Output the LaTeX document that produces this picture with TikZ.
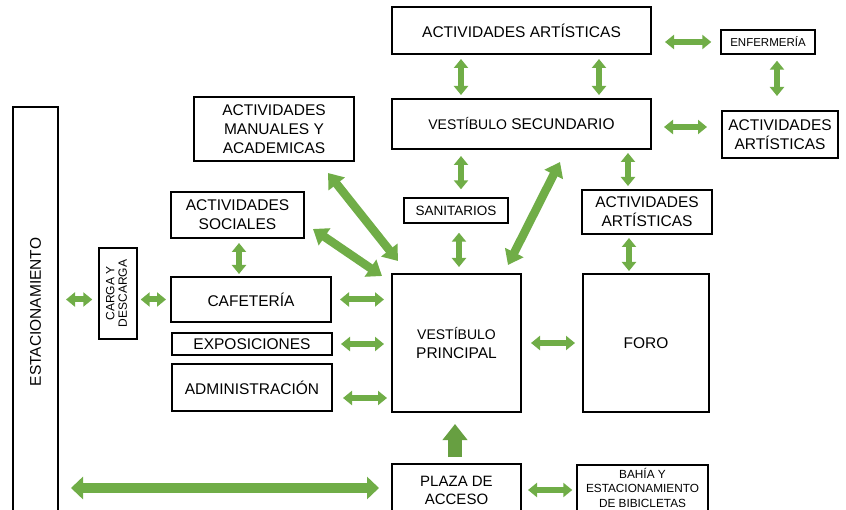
\documentclass[tikz,border=0pt]{standalone}
\usepackage{fontspec}
\setmainfont{Liberation Sans}
\usetikzlibrary{arrows.meta}
\definecolor{arrowgreen}{HTML}{70AD47}
\newcommand\fsz[2]{\fontsize{#1}{#2}\selectfont}

\tikzset{
  box/.style={draw=black, line width=2pt, inner sep=0pt, align=center, text=black,
    font=\fsz{15.5}{19}},
  thinbox/.style={box, line width=1.4pt},
  link/.style={draw=arrowgreen, line width=6pt,
    {Triangle[width=14pt,length=9pt]}-{Triangle[width=14pt,length=9pt]}},
  wide link/.style={draw=arrowgreen, line width=8.5pt,
    {Triangle[width=20pt,length=14pt]}-{Triangle[width=20pt,length=14pt]}},
  long link/.style={draw=arrowgreen, line width=10pt,
    {Triangle[width=22pt,length=12pt]}-{Triangle[width=22pt,length=12pt]}},
  entry link/.style={draw=arrowgreen!92!black, line width=14pt,
    -{Triangle[width=24pt,length=16pt]}},
}

\begin{document}
\begin{tikzpicture}[x=1pt,y=-1pt]
\useasboundingbox (0,0) rectangle (846,510);

% rooms
\node[box, minimum width=259pt, minimum height=47pt] (aaTop) at (521.5,30.5) {ACTIVIDADES ARTÍSTICAS};
\node[thinbox, minimum width=94pt, minimum height=24pt, font=\fsz{11.5}{14}] (enf) at (768,42) {ENFERMERÍA};
\node[box, minimum width=259pt, minimum height=50pt] (vs) at (521.5,124)
  {{\fsz{14}{17}VESTÍBULO} SECUNDARIO};
\node[box, minimum width=116pt, minimum height=47pt] (aaR) at (780,134.5) {ACTIVIDADES\\ARTÍSTICAS};
\node[box, minimum width=160pt, minimum height=64pt] (amya) at (274,129) {ACTIVIDADES\\MANUALES Y\\ACADEMICAS};
\node[thinbox, minimum width=104pt, minimum height=25pt, font=\fsz{13.5}{16}] (san) at (456,210.5) {SANITARIOS};
\node[box, minimum width=130pt, minimum height=44pt] (aaM) at (647,212) {ACTIVIDADES\\ARTÍSTICAS};
\node[box, minimum width=133pt, minimum height=46pt] (as) at (237.5,215) {ACTIVIDADES\\SOCIALES};
\node[box, minimum width=45pt, minimum height=410pt] (est) at (35.5,312) {\rotatebox{90}{ESTACIONAMIENTO}};
\node[thinbox, minimum width=38pt, minimum height=91pt] (cd) at (118,293.5)
  {\rotatebox{90}{\fsz{12}{12.5}\begin{tabular}{@{}c@{}}CARGA Y\\DESCARGA\end{tabular}}};
\node[box, minimum width=160pt, minimum height=45pt] (cafe) at (251,299.5) {CAFETERÍA};
\node[box, minimum width=160pt, minimum height=22pt] (expo) at (252,344) {EXPOSICIONES};
\node[box, minimum width=160pt, minimum height=47pt] (adm) at (252,387.5) {ADMINISTRACIÓN};
\node[box, minimum width=129pt, minimum height=138pt] (vp) at (456.5,343)
  {{\fsz{14}{19}VESTÍBULO}\\PRINCIPAL};
\node[box, minimum width=126pt, minimum height=138pt] (foro) at (646,343) {FORO};
\node[box, minimum width=129pt, minimum height=52pt, font=\fsz{15}{18}] (plaza) at (456.5,490) {PLAZA DE\\ACCESO};
\node[thinbox, minimum width=131pt, minimum height=50pt] (bahia) at (642.5,490)
  {\raisebox{2.5pt}{\fsz{11.8}{14.5}\begin{tabular}{@{}c@{}}BAHÍA Y\\ESTACIONAMIENTO\\DE BIBICLETAS\end{tabular}}};

% upper connections
\draw[link, shorten <=13pt, shorten >=9pt] (aaTop.east |- enf.west) -- (enf.west);
\draw[link, shorten <=4pt, shorten >=3pt] ([shift={(-60.5,0)}]aaTop.south) -- ([shift={(-60.5,0)}]vs.north);
\draw[link, shorten <=4pt, shorten >=3pt] ([shift={(77.5,0)}]aaTop.south) -- ([shift={(77.5,0)}]vs.north);
\draw[link, shorten <=6pt, shorten >=14pt] ([shift={(9,0)}]enf.south) -- ([shift={(9,0)}]enf.south |- aaR.north);
\draw[link, shorten <=12pt, shorten >=14pt] ([shift={(0,3)}]vs.east) -- ([shift={(0,3)}]vs.east -| aaR.west);
\draw[link, shorten <=6pt, shorten >=8pt] ([shift={(5,0)}]san.north |- vs.south) -- ([shift={(5,0)}]san.north);
\draw[link, shorten <=3pt, shorten >=3pt] ([shift={(-19,0)}]aaM.north |- vs.south) -- ([shift={(-19,0)}]aaM.north);
\draw[link, shorten <=9pt, shorten >=6pt] ([shift={(3,0)}]san.south) -- ([shift={(3,0)}]san.south |- vp.north);
\draw[link, shorten <=3pt, shorten >=2pt] ([shift={(-18,0)}]aaM.south) -- ([shift={(-18,0)}]aaM.south |- foro.north);

% diagonal connections to the main lobby
\draw[wide link] ([shift={(-27,11)}]amya.south east) -- ([shift={(7,-12)}]vp.north west);
\draw[wide link] ([shift={(8,-10)}]as.south east) -- ([shift={(-9,3)}]vp.north west);
\draw[wide link] ([shift={(38.5,12)}]vs.south) -- ([shift={(-14,-8)}]vp.north east);

% left side
\draw[link, shorten <=7pt, shorten >=6pt] (cafe.west -| est.east) -- (cafe.west -| cd.west);
\draw[link, shorten <=3pt, shorten >=4pt] (cafe.west -| cd.east) -- (cafe.west);
\draw[link, shorten <=4pt, shorten >=2pt] ([shift={(1.5,0)}]as.south) -- ([shift={(1.5,0)}]as.south |- cafe.north);
\draw[link, shorten <=8pt, shorten >=7pt] (cafe.east) -- (cafe.east -| vp.west);
\draw[link, shorten <=8pt, shorten >=7pt] (expo.east) -- (expo.east -| vp.west);
\draw[link, shorten <=10pt, shorten >=4pt] ([shift={(0,10.5)}]adm.east) -- ([shift={(0,10.5)}]adm.east -| vp.west);
\draw[link, shorten <=9pt, shorten >=7pt] (vp.east) -- (foro.west);

% access
\draw[entry link, shorten <=6pt, shorten >=11pt] ([shift={(-1.5,0)}]plaza.north) -- ([shift={(-1.5,0)}]plaza.north |- vp.south);
\draw[long link, shorten <=12pt, shorten >=12pt] ([shift={(0,-2)}]plaza.west -| est.east) -- ([shift={(0,-2)}]plaza.west);
\draw[link, shorten <=6pt, shorten >=4pt] (plaza.east) -- (bahia.west);
\end{tikzpicture}
\end{document}
